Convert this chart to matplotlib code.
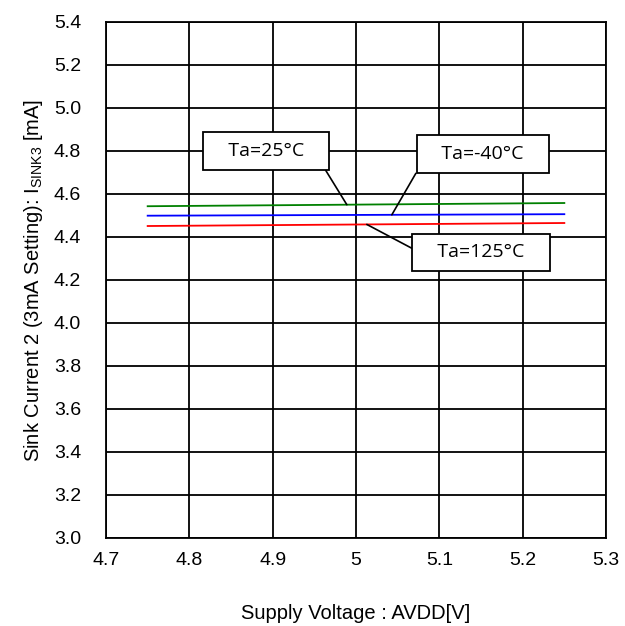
import matplotlib
matplotlib.use("Agg")
import matplotlib.pyplot as plt

voltage = [4.75, 5.25]
i_25 = [4.543, 4.558]
i_m40 = [4.499, 4.506]
i_125 = [4.451, 4.465]

x_ticks = [4.7, 4.8, 4.9, 5.0, 5.1, 5.2, 5.3]
x_labels = ["4.7", "4.8", "4.9", "5", "5.1", "5.2", "5.3"]
y_ticks = [3.0, 3.2, 3.4, 3.6, 3.8, 4.0, 4.2, 4.4, 4.6, 4.8, 5.0, 5.2, 5.4]
y_labels = [f"{v:.1f}" for v in y_ticks]

plt.rcParams['font.family'] = ['Liberation Sans', 'DejaVu Sans']

fig = plt.figure(figsize=(6.25, 6.26), dpi=100)
ax = fig.add_axes([0.1696, 0.1406, 0.8, 0.8243])

ax.plot(voltage, i_25, color='#008000', lw=1.3)
ax.plot(voltage, i_m40, color='#0000ff', lw=1.3)
ax.plot(voltage, i_125, color='#ff0000', lw=1.3)

ax.set_xlim(4.7, 5.3)
ax.set_ylim(3.0, 5.4)
ax.set_xticks(x_ticks)
ax.set_xticklabels(x_labels, fontsize=14)
ax.set_yticks(y_ticks)
ax.set_yticklabels(y_labels, fontsize=14)
ax.tick_params(axis='both', length=0)
ax.tick_params(axis='x', pad=10)
ax.tick_params(axis='y', pad=18)
ax.grid(True, color='black', lw=1.3)
for s in ax.spines.values():
    s.set_color('black')
    s.set_linewidth(1.3)

ax.set_xlabel("Supply Voltage : AVDD[V]", fontsize=14.5, labelpad=25)
ax.set_ylabel(r"Sink Current 2 (3mA Setting): I$_{\mathregular{SINK3}}$ [mA]",
              fontsize=14.5, labelpad=6)

box = dict(boxstyle='square,pad=0.5', fc='white', ec='black', lw=1.3)
ann_font = ['Open Sans', 'DejaVu Sans']


def on_line(xv, xs, ys):
    return ys[0] + (ys[1] - ys[0]) * (xv - xs[0]) / (xs[1] - xs[0])


ax.annotate("   Ta=25°C   ", xy=(4.989, on_line(4.989, voltage, i_25)),
            xytext=(4.892, 4.800), ha='center', va='center', fontsize=14,
            family=ann_font, bbox=box,
            arrowprops=dict(arrowstyle='-', color='black', lw=1.2, shrinkA=0, shrinkB=0,
                            relpos=(1.0, 0.0)))
ax.annotate("   Ta=-40°C   ", xy=(5.043, on_line(5.043, voltage, i_m40)),
            xytext=(5.152, 4.786), ha='center', va='center', fontsize=14,
            family=ann_font, bbox=box,
            arrowprops=dict(arrowstyle='-', color='black', lw=1.2, shrinkA=0, shrinkB=0,
                            relpos=(0.0, 0.42)))
ax.annotate("   Ta=125°C   ", xy=(5.013, on_line(5.013, voltage, i_125)),
            xytext=(5.150, 4.328), ha='center', va='center', fontsize=14,
            family=ann_font, bbox=box,
            arrowprops=dict(arrowstyle='-', color='black', lw=1.2, shrinkA=0, shrinkB=0,
                            relpos=(0.0, 0.43)))

fig.savefig("out.png", dpi=100)
